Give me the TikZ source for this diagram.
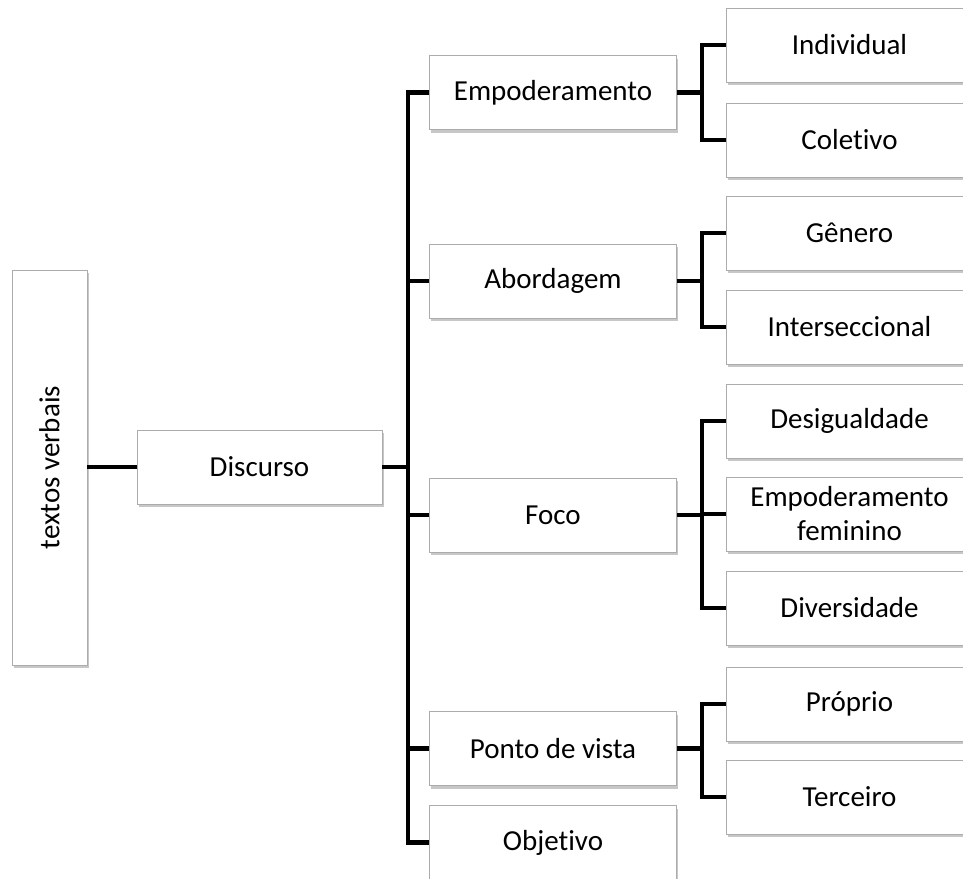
\documentclass[tikz,border=0pt]{standalone}
\usepackage{fontspec}
\setmainfont[Ligatures=NoCommon]{Carlito}
\usetikzlibrary{shadows}
\begin{document}
\begin{tikzpicture}[x=1pt,y=-1pt,
  box/.style={draw=gray!65, line width=0.8pt, fill=white, inner sep=0pt,
    minimum width=247pt, minimum height=74pt, align=center,
    font=\fontsize{29}{34}\selectfont,
    drop shadow={shadow xshift=1.5pt, shadow yshift=-3pt, opacity=0.22, fill=black}},
  link/.style={line width=4.5pt, line join=miter}]
\useasboundingbox (0,0) rectangle (963,878);
\clip (0,0) rectangle (963,878);

% root and first level
\node[box, minimum width=75pt, minimum height=395pt] (tv) at (49.5,467.5) {\rotatebox{90}{textos verbais}};
\node[box, minimum width=245pt] (dis) at (259.5,467) {Discurso};

% second level
\node[box] (emp) at (553,92.5) {Empoderamento};
\node[box] (abo) at (553,281) {Abordagem};
\node[box] (foc) at (553,515) {Foco};
\node[box] (pdv) at (553,748.5) {Ponto de vista};
\node[box] (obj) at (553,842.5) {Objetivo};

% third level
\node[box] (ind) at (849.5,45) {Individual};
\node[box] (col) at (849.5,140) {Coletivo};
\node[box] (gen) at (849.5,233) {Gênero};
\node[box] (int) at (849.5,327) {Interseccional};
\node[box] (des) at (849.5,421) {Desigualdade};
\node[box] (emf) at (849.5,514) {Empoderamento\\feminino};
\node[box] (div) at (849.5,608) {Diversidade};
\node[box] (pro) at (849.5,704) {Próprio};
\node[box] (ter) at (849.5,797) {Terceiro};

% connectors
\coordinate (tr) at (408,0);
\coordinate (br) at (702,0);
\draw[link] (tv.east |- dis.west) -- (dis.west);
\draw[link] (dis.east) -- (dis.east -| tr);
\draw[link] (emp.west) -- (emp.west -| tr) -- (obj.west -| tr) -- (obj.west);
\foreach \n in {abo,foc,pdv} \draw[link] (\n.west) -- (\n.west -| tr);

\draw[link] (ind.west) -- (ind.west -| br) -- (col.west -| br) -- (col.west);
\draw[link] (emp.east) -- (emp.east -| br);
\draw[link] (gen.west) -- (gen.west -| br) -- (int.west -| br) -- (int.west);
\draw[link] (abo.east) -- (abo.east -| br);
\draw[link] (des.west) -- (des.west -| br) -- (div.west -| br) -- (div.west);
\draw[link] (foc.east) -- (foc.east -| br);
\draw[link] (emf.west) -- (emf.west -| br);
\draw[link] (pro.west) -- (pro.west -| br) -- (ter.west -| br) -- (ter.west);
\draw[link] (pdv.east) -- (pdv.east -| br);
\end{tikzpicture}
\end{document}
